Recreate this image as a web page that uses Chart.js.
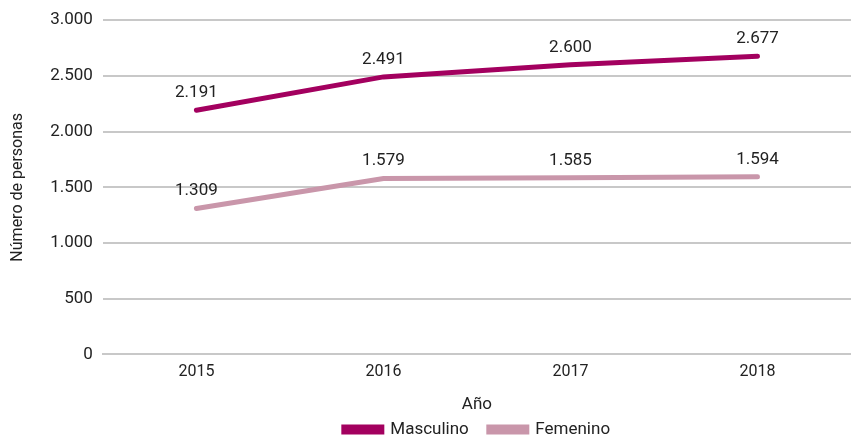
<!DOCTYPE html>
<html>
<head>
<meta charset="utf-8">
<script src="https://cdn.jsdelivr.net/npm/chart.js@4/dist/chart.umd.min.js"></script>
<style>
  html, body { margin: 0; padding: 0; background: #fff; }
  #wrap { width: 851px; height: 439px; position: relative; }
</style>
</head>
<body>
<div id="wrap"><canvas id="chart"></canvas></div>
<script>
(function(){
	'use strict';

	var years = ['2015', '2016', '2017', '2018'];
	var masculino = [2191, 2491, 2600, 2677];
	var femenino = [1309, 1579, 1585, 1594];
	var yTicks = [0, 500, 1000, 1500, 2000, 2500, 3000];

	var FONT = "Roboto, 'Liberation Sans', sans-serif";

	function fmt(v){
		return String(v).replace(/\B(?=(\d{3})+(?!\d))/g, '.');
	}

	// value labels above each point
	var valueLabels = {
		id: 'valueLabels',
		afterDatasetsDraw: function(chart){
			var ctx = chart.ctx;
			ctx.save();
			ctx.font = '17px ' + FONT;
			ctx.fillStyle = '#222';
			ctx.textAlign = 'center';
			ctx.textBaseline = 'bottom';
			chart.data.datasets.forEach(function(ds, i){
				chart.getDatasetMeta(i).data.forEach(function(pt, j){
					ctx.fillText(fmt(ds.data[j]), pt.x, pt.y - 9);
				});
			});
			ctx.restore();
		}
	};

	new Chart(document.getElementById('chart'), {
		type: 'line',
		data: {
			labels: years,
			datasets: [
				{
					label: 'Masculino',
					data: masculino,
					borderColor: '#a3005f',
					backgroundColor: '#a3005f',
					borderWidth: 5,
					pointRadius: 0,
					borderCapStyle: 'round',
					tension: 0
				},
				{
					label: 'Femenino',
					data: femenino,
					borderColor: '#c996aa',
					backgroundColor: '#c996aa',
					borderWidth: 5,
					pointRadius: 0,
					borderCapStyle: 'round',
					tension: 0
				}
			]
		},
		options: {
			responsive: true,
			maintainAspectRatio: false,
			animation: false,
			layout: { padding: { top: 4, right: 0, left: 8, bottom: 0 } },
			plugins: {
				tooltip: { enabled: false },
				legend: {
					position: 'bottom',
					fullSize: false,
					maxHeight: 38,
					labels: {
						boxWidth: 38,
						boxHeight: 5,
						padding: 20,
						color: '#222',
						font: { family: FONT, size: 17 }
					}
				}
			},
			scales: {
				x: {
					offset: true,
					grid: { display: false, drawTicks: false },
					border: { color: '#c8c8c8', width: 2 },
					ticks: { color: '#222', font: { family: FONT, size: 16 }, padding: 8 },
					title: { display: true, text: 'Año', color: '#222', font: { family: FONT, size: 17 }, padding: { top: 5, bottom: -14 } }
				},
				y: {
					min: 0,
					max: 3000,
					afterBuildTicks: function(axis){
						axis.ticks = yTicks.map(function(v){ return { value: v }; });
					},
					grid: { color: '#c8c8c8', lineWidth: 2, drawTicks: false },
					border: { display: false },
					ticks: {
						color: '#222',
						padding: 10,
						font: { family: FONT, size: 17 },
						callback: function(v){ return fmt(v); }
					},
					title: { display: true, text: 'Número de personas', color: '#222', font: { family: FONT, size: 16 }, padding: { top: 0, bottom: 13 } }
				}
			}
		},
		plugins: [valueLabels]
	});
})();
</script>
</body>
</html>
